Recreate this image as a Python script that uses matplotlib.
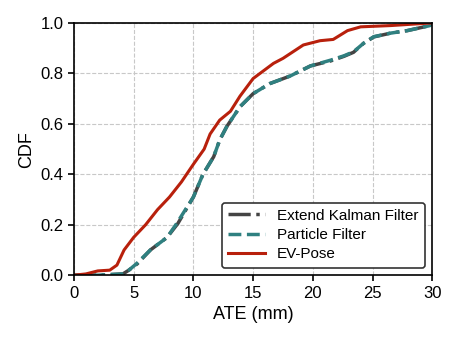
import matplotlib
matplotlib.use("Agg")
import matplotlib.pyplot as plt

plt.rcParams['font.family'] = ['Liberation Sans', 'DejaVu Sans']

# CDF curves (ATE in mm, cumulative fraction)
ev_x = [0, 1.0, 2.0, 3.0, 3.6, 4.2, 5.0, 6.0, 7.0, 8.0, 9.0, 10.0, 10.9, 11.4,
        12.2, 13.1, 13.9, 15.0, 16.7, 17.5, 19.2, 20.6, 21.7, 22.9, 24.0, 26.5, 29.8, 30]
ev_y = [0, 0.005, 0.017, 0.02, 0.04, 0.10, 0.15, 0.20, 0.26, 0.31, 0.37, 0.44, 0.50, 0.56,
        0.615, 0.65, 0.71, 0.78, 0.84, 0.86, 0.913, 0.93, 0.935, 0.97, 0.985, 0.99, 1.0, 1.0]

pf_x = [0, 2.0, 4.1, 4.6, 5.25, 6.4, 7.8, 8.6, 10.0, 10.8, 11.7, 12.2, 12.8, 13.9,
        15.0, 16.4, 18.1, 19.8, 21.5, 22.6, 23.4, 24.25, 25.1, 26.5, 27.9, 29.8, 30]
pf_y = [0, 0.0, 0.005, 0.02, 0.046, 0.10, 0.15, 0.205, 0.31, 0.40, 0.47, 0.536, 0.59, 0.668,
        0.72, 0.76, 0.79, 0.83, 0.853, 0.87, 0.886, 0.92, 0.946, 0.96, 0.97, 0.99, 1.0]

ekf_x = [0, 2.0, 4.1, 4.6, 5.3, 6.4, 7.8, 8.7, 10.0, 10.8, 11.7, 12.2, 12.8, 13.9,
         15.0, 16.4, 18.1, 19.8, 21.5, 22.6, 23.4, 24.25, 25.1, 26.5, 27.9, 29.8, 30]
ekf_y = [0, 0.0, 0.005, 0.02, 0.045, 0.10, 0.15, 0.205, 0.31, 0.40, 0.47, 0.536, 0.59, 0.668,
         0.72, 0.76, 0.79, 0.83, 0.85, 0.868, 0.884, 0.92, 0.945, 0.96, 0.97, 0.99, 1.0]

fig = plt.figure(figsize=(4.59, 3.44), dpi=100)
ax = fig.add_axes([0.161, 0.200, 0.781, 0.733])

ax.plot(ekf_x, ekf_y, color='#444444', lw=2.5, ls='-.', label='Extend Kalman Filter')
ax.plot(pf_x, pf_y, color='#2f8080', lw=2.5, ls='--', label='Particle Filter')
ax.plot(ev_x, ev_y, color='#b8200c', lw=2.2, label='EV-Pose')

ax.set_xlim(0, 30)
ax.set_ylim(0, 1.0)
ax.set_xticks([0, 5, 10, 15, 20, 25, 30])
ax.set_yticks([0.0, 0.2, 0.4, 0.6, 0.8, 1.0])
ax.grid(True, ls='--', color='#c8c8c8', lw=0.8)
ax.tick_params(labelsize=12, length=4, width=1.2, color='black')
for s in ax.spines.values():
    s.set_linewidth(1.2)
ax.set_xlabel('ATE (mm)', fontsize=13)
ax.set_ylabel('CDF', fontsize=13)

leg = ax.legend(loc='lower right', fontsize=11, frameon=True, fancybox=True,
                edgecolor='#333333', framealpha=1, handlelength=2.4,
                borderpad=0.4, labelspacing=0.35)
leg.get_frame().set_linewidth(1.2)

fig.savefig('out.png', dpi=100)
